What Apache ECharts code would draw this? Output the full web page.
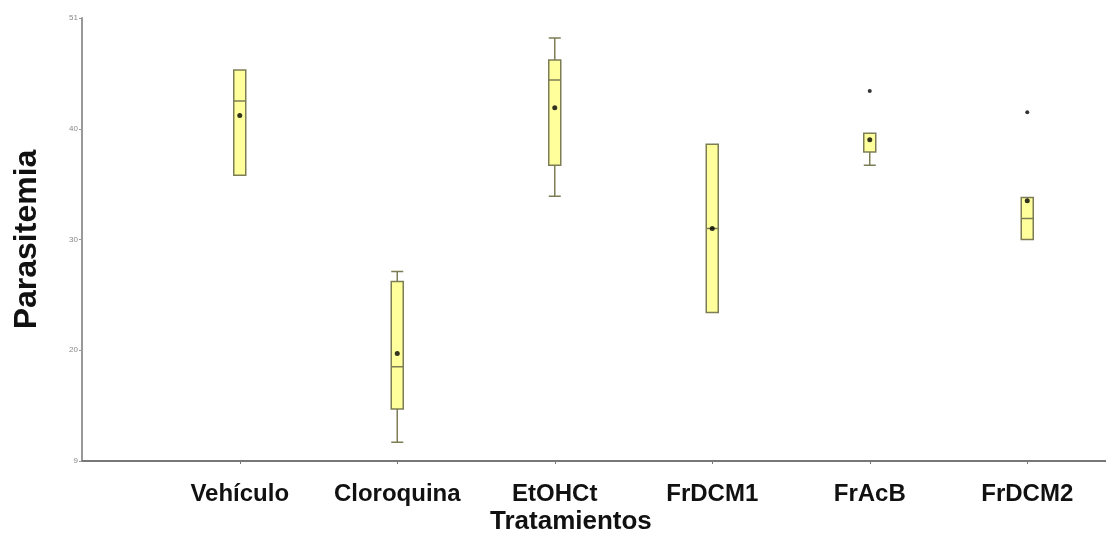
<!DOCTYPE html>
<html>
<head>
<meta charset="utf-8">
<script src="https://cdn.jsdelivr.net/npm/echarts@6/dist/echarts.min.js"></script>
<style>
  html, body { margin: 0; padding: 0; background: #ffffff; }
  #chart { width: 1106px; height: 533px; }
</style>
</head>
<body>
<div id="chart"></div>
<script>
// treatment groups and their box stats
const categories = ['Vehículo', 'Cloroquina', 'EtOHCt', 'FrDCM1', 'FrAcB', 'FrDCM2'];
const mins    = [35.8, 11.7, 33.9, 23.4, 36.7, 30.0];
const q1s     = [35.8, 14.7, 36.7, 23.4, 37.9, 30.0];
const medians = [42.5, 18.5, 44.4, 31.0, 37.9, 31.9];
const q3s     = [45.3, 26.2, 46.2, 38.6, 39.6, 33.8];
const maxs    = [45.3, 27.1, 48.2, 38.6, 39.6, 33.8];
const means   = [41.2, 19.7, 41.9, 31.0, 39.0, 33.5];
const outlierCats = ['FrAcB', 'FrDCM2'];
const outlierVals = [43.4, 41.5];
// labels printed at the y-axis ticks
const yTickLabels = ['9', '20', '30', '40', '51'];

const FONT = "'Liberation Sans', Arial, sans-serif";

const chart = echarts.init(document.getElementById('chart'));

const boxData = categories.map((c, i) => [mins[i], q1s[i], medians[i], q3s[i], maxs[i]]);

const option = {
  backgroundColor: '#ffffff',
  animation: false,
  grid: [
    { left: 82, right: 0, top: 18, height: 443 },
    { left: 161, width: 950, top: 18, height: 443 }
  ],
  xAxis: [
    {
      gridIndex: 0, type: 'value', min: 0, max: 1,
      axisLine: { show: true, lineStyle: { color: '#777777', width: 2 } },
      axisTick: { show: false }, axisLabel: { show: false }, splitLine: { show: false }
    },
    {
      gridIndex: 1, type: 'category', data: categories,
      axisLine: { show: false },
      axisTick: { show: true, alignWithLabel: true, length: 3, lineStyle: { color: '#777777' } },
      axisLabel: { interval: 0, margin: 21, fontSize: 24, fontWeight: 'bold', color: '#111111', fontFamily: FONT },
      splitLine: { show: false }
    }
  ],
  yAxis: [
    {
      gridIndex: 0, type: 'value', min: 10, max: 50, interval: 10,
      axisLine: { show: true, lineStyle: { color: '#999999', width: 2 } },
      axisTick: { show: true, length: 3, lineStyle: { color: '#999999' } },
      axisLabel: {
        fontSize: 8, color: '#888888', margin: 4, fontFamily: FONT,
        formatter: (v, i) => yTickLabels[i]
      },
      splitLine: { show: false },
      name: 'Parasitemia', nameLocation: 'middle', nameGap: 39,
      nameTextStyle: { fontSize: 32, fontWeight: 'bold', color: '#111111', fontFamily: FONT }
    },
    {
      gridIndex: 1, type: 'value', min: 10, max: 50, show: false
    }
  ],
  graphic: [
    {
      type: 'text', left: 490, top: 509,
      style: { text: 'Tratamientos', fill: '#111111', font: 'bold 26px ' + FONT }
    }
  ],
  series: [
    {
      type: 'boxplot', xAxisIndex: 1, yAxisIndex: 1,
      data: boxData,
      boxWidth: [12, 12],
      itemStyle: { color: '#ffff9c', borderColor: '#7d7d55', borderWidth: 1.5 },
      emphasis: { disabled: true }
    },
    {
      type: 'scatter', xAxisIndex: 1, yAxisIndex: 1,
      data: categories.map((c, i) => [c, means[i]]),
      symbolSize: 5, itemStyle: { color: '#000000' }, z: 5
    },
    {
      type: 'scatter', xAxisIndex: 1, yAxisIndex: 1,
      data: outlierCats.map((c, i) => [c, outlierVals[i]]),
      symbolSize: 4, itemStyle: { color: '#000000' }, z: 5
    }
  ]
};

chart.setOption(option);
</script>
</body>
</html>
